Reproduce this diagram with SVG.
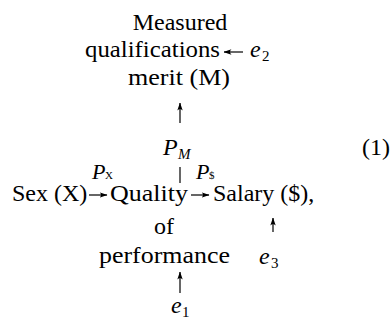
<svg xmlns="http://www.w3.org/2000/svg" width="392" height="320" viewBox="0 0 392 320">
<style>
  .t { font-family: "Liberation Serif", "Times New Roman", serif; font-size: 24px; fill: #000; }
  .i { font-style: italic; }
  .sub { font-family: "Liberation Serif", "Times New Roman", serif; font-size: 15px; fill: #000; }
  .lab { font-family: "Liberation Serif", "Times New Roman", serif; font-size: 22px; fill: #000; font-style: italic; }
  .ssub { font-family: "Liberation Serif", "Times New Roman", serif; font-size: 11px; fill: #000; }
  .c { text-anchor: middle; }
  .ln { stroke: #000; stroke-width: 1.2; fill: none; }
</style>
<defs>
  <marker id="ah" viewBox="0 0 8 6" refX="7.5" refY="3" markerWidth="8" markerHeight="6" markerUnits="userSpaceOnUse" orient="auto">
    <path d="M0,0.3 Q3,3 0,5.7 L8,3 Z" fill="#000"/>
  </marker>
</defs>
<rect width="392" height="320" fill="#fff"/>

<g id="merit">
  <text class="t c" x="180" y="30">Measured</text>
  <text class="t" x="85" y="57" textLength="135" lengthAdjust="spacingAndGlyphs">qualifications</text>
  <text class="t" x="128" y="85" textLength="102" lengthAdjust="spacingAndGlyphs">merit (M)</text>
</g>
<g id="e2">
  <text class="t i" x="250" y="57">e</text><text class="sub" x="262" y="61">2</text>
</g>
<g id="sex">
  <text class="t" x="12" y="201">Sex (X)</text>
</g>
<g id="quality">
  <text class="t" x="110" y="201" textLength="78" lengthAdjust="spacingAndGlyphs">Quality</text>
  <text class="t c" x="164" y="234">of</text>
  <text class="t" x="99" y="263" textLength="131" lengthAdjust="spacingAndGlyphs">performance</text>
</g>
<g id="salary">
  <text class="t" x="213" y="201">Salary ($),</text>
</g>
<g id="e3">
  <text class="t i" x="259" y="264">e</text><text class="sub" x="271" y="268">3</text>
</g>
<g id="e1">
  <text class="t i" x="171" y="313">e</text><text class="sub" x="182" y="317" font-size="13">1</text>
</g>
<g id="eqnum">
  <text class="t" x="390" y="155" text-anchor="end">(1)</text>
</g>

<g id="connectors">
  <line class="ln" x1="243" y1="52" x2="224" y2="52" marker-end="url(#ah)"/>
  <line class="ln" x1="180" y1="183" x2="180" y2="167"/>
  <line class="ln" x1="180" y1="123" x2="180" y2="103" marker-end="url(#ah)"/>
  <text class="t i" x="163" y="155">P</text><text class="sub i" x="178" y="159">M</text>
  <line class="ln" x1="89" y1="195" x2="107" y2="195" marker-end="url(#ah)"/>
  <text class="lab" x="92" y="179">P</text><text class="ssub" x="105" y="179">X</text>
  <line class="ln" x1="191" y1="195" x2="209" y2="195" marker-end="url(#ah)"/>
  <text class="lab" x="196" y="179">P</text><text class="ssub" x="209" y="179">$</text>
  <line class="ln" x1="273" y1="232" x2="273" y2="218" marker-end="url(#ah)"/>
  <line class="ln" x1="180" y1="293" x2="180" y2="272" marker-end="url(#ah)"/>
</g>
</svg>
